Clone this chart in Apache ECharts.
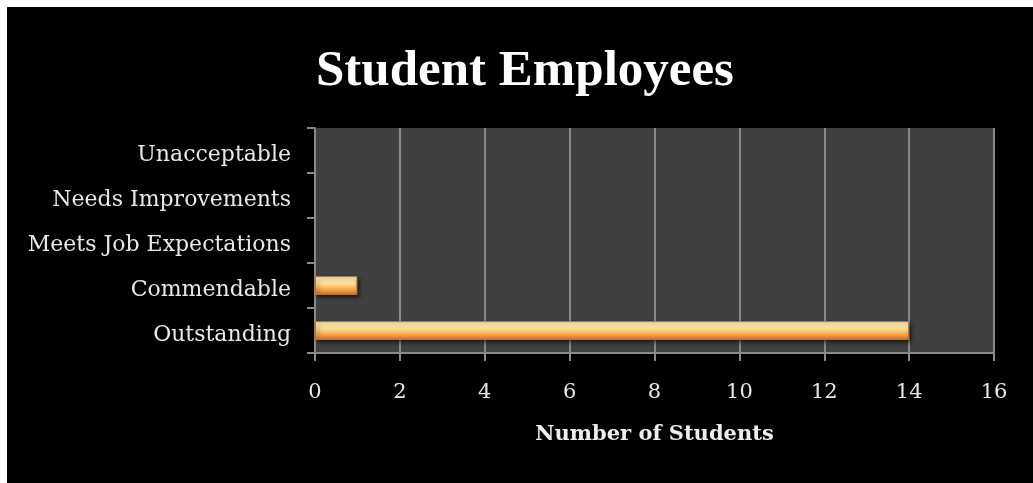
<!DOCTYPE html>
<html>
<head>
<meta charset="utf-8">
<title>Student Employees</title>
<script src="https://cdn.jsdelivr.net/npm/echarts@6/dist/echarts.min.js"></script>
<style>
  html, body { margin: 0; padding: 0; background: #ffffff; }
  #wrap { position: relative; width: 1033px; height: 483px; overflow: hidden; }
  #panel { position: absolute; left: 7px; top: 7px; right: 0; bottom: 0; background: #000000; }
  #chart { position: absolute; left: 0; top: 0; width: 1033px; height: 483px; }
</style>
</head>
<body>
<div id="wrap">
  <div id="panel"></div>
  <div id="chart"></div>
</div>
<script>
// Rating categories, listed bottom to top along the vertical axis
const ratings = ['Outstanding', 'Commendable', 'Meets Job Expectations', 'Needs Improvements', 'Unacceptable'];
// Number of students in each rating
const studentCounts = [14, 1, 0, 0, 0];
// Value axis range and step
const axisMin = 0;
const axisMax = 16;
const axisStep = 2;

const labelFont = 'DejaVu Serif';
const gridGray = '#8a8a8a';

const barFill = new echarts.graphic.LinearGradient(0, 0, 0, 1, [
  { offset: 0, color: '#f4b469' },
  { offset: 0.12, color: '#fff2c0' },
  { offset: 0.42, color: '#ffdc8a' },
  { offset: 0.72, color: '#f7a34e' },
  { offset: 1, color: '#cc702c' }
]);

// Empty ratings get no bar at all (no border or shadow sliver)
const barData = studentCounts.map(v => v === 0
  ? { value: v, itemStyle: { opacity: 0 } }
  : v);

const chart = echarts.init(document.getElementById('chart'), null, { renderer: 'canvas' });

chart.setOption({
  backgroundColor: 'transparent',
  animation: false,
  title: {
    text: 'Student Employees',
    left: 311,
    top: 41,
    textStyle: {
      color: '#ffffff',
      fontFamily: 'Liberation Serif',
      fontWeight: 'bold',
      fontSize: 51
    }
  },
  grid: {
    left: 315,
    right: 39,
    top: 128,
    bottom: 130,
    show: true,
    backgroundColor: '#404040',
    borderWidth: 0
  },
  xAxis: {
    type: 'value',
    min: axisMin,
    max: axisMax,
    interval: axisStep,
    name: 'Number of Students',
    nameLocation: 'middle',
    nameGap: 71,
    nameTextStyle: {
      color: '#eeeeee',
      fontFamily: labelFont,
      fontWeight: 'bold',
      fontSize: 21
    },
    axisLine: { show: true, lineStyle: { color: gridGray, width: 2 } },
    axisTick: { show: true, length: 8, lineStyle: { color: gridGray, width: 2 } },
    axisLabel: {
      color: '#e8e8e8',
      fontFamily: labelFont,
      fontSize: 21,
      margin: 29
    },
    splitLine: { show: true, lineStyle: { color: gridGray, width: 2 } }
  },
  yAxis: {
    type: 'category',
    data: ratings,
    axisLine: { show: true, lineStyle: { color: gridGray, width: 2 } },
    axisTick: { show: true, length: 8, lineStyle: { color: gridGray, width: 2 } },
    axisLabel: {
      margin: 24,
      formatter: name => '{r|' + name + '}',
      rich: {
        r: {
          color: '#e8e8e8',
          fontFamily: labelFont,
          fontSize: 22,
          padding: [10, 0, 0, 0]
        }
      }
    },
    splitLine: { show: false }
  },
  series: [{
    type: 'bar',
    data: barData,
    barWidth: 19,
    itemStyle: {
      color: barFill,
      borderColor: '#c2702f',
      borderWidth: 1,
      shadowColor: 'rgba(0,0,0,0.55)',
      shadowBlur: 4,
      shadowOffsetX: 2,
      shadowOffsetY: 2
    }
  }]
});
</script>
</body>
</html>
